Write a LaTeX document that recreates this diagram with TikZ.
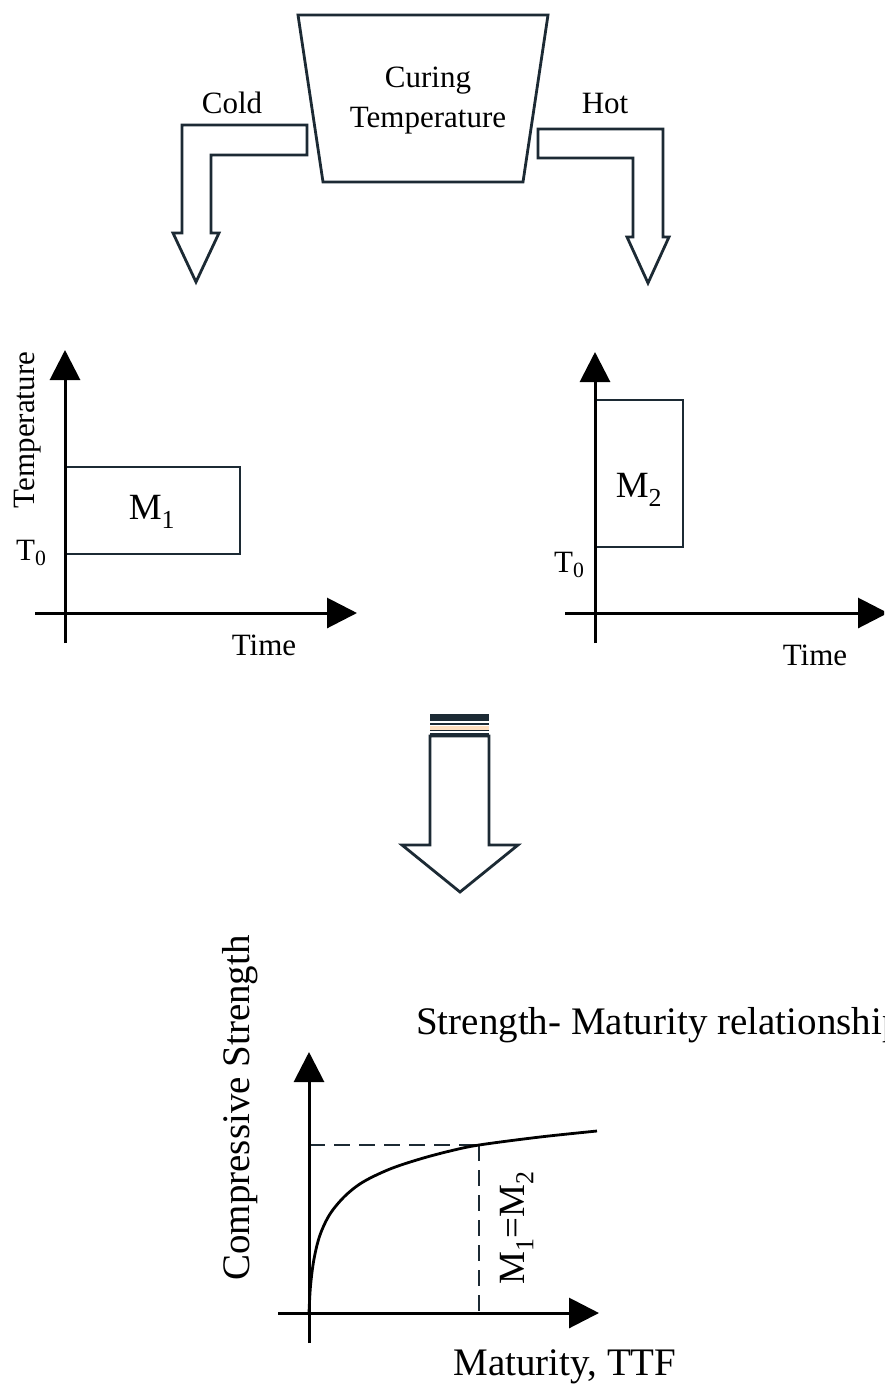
\documentclass[tikz,border=0pt]{standalone}
\usepackage{fontspec}
\setmainfont{Liberation Serif}
\usetikzlibrary{arrows.meta}
\definecolor{ink}{RGB}{28,42,52}
\begin{document}
\begin{tikzpicture}[x=1pt,y=-1pt,
  axis/.style={line width=3pt,-{Triangle[length=30pt,width=30pt]}},
  blockarrow/.style={draw=ink,line width=2.8pt,fill=white,line join=miter},
  tbox/.style={draw=ink,line width=2.6pt},
  lbl/.style={inner sep=0pt,font=\fontsize{31}{40}\selectfont},
  mlbl/.style={inner sep=0pt,font=\fontsize{37}{42}\selectfont},
  biglbl/.style={inner sep=0pt,font=\fontsize{39}{46}\selectfont},
  guide/.style={draw=ink,line width=2.4pt,dash pattern=on 16pt off 9pt}]
\clip (0,0) rectangle (884,1390);
\fill[white] (0,0) rectangle (884,1390);

% ---- top: curing temperature block
\draw[tbox,line width=2.8pt] (298,15) -- (548,15) -- (523,182) -- (323,182) -- cycle;
\node[lbl,align=center] (curing) at (428,101) {Curing\\Temperature};

% cold arrow
\draw[blockarrow] (307,125) -- (182,125) -- (182,233) -- (173,233) -- (196,282)
  -- (219,233) -- (211,233) -- (211,155) -- (307,155) -- cycle;
\node[lbl,anchor=base] (cold) at (232,113) {Cold};

% hot arrow
\draw[blockarrow] (538,129) -- (663,129) -- (663,237) -- (669,237) -- (648,283)
  -- (627,237) -- (633,237) -- (633,158) -- (538,158) -- cycle;
\node[lbl,anchor=base] (hot) at (605,113) {Hot};

% ---- left chart
\coordinate (lyb) at (65,643);  \coordinate (lyt) at (65,350);
\coordinate (lxl) at (35,613);  \coordinate (lxr) at (357,613);
\draw[tbox] (65,467) rectangle (240,554);
\draw[axis] (lyb) -- (lyt);
\draw[axis] (lxl) -- (lxr);
\node[mlbl] (m1) at (152,512) {M\textsubscript{1}};
\node[lbl,anchor=base west] (t0a) at (16,560) {T\textsubscript{0}};
\node[lbl,anchor=base] (timea) at (264,655) {Time};
\node[lbl,rotate=90] (temp) at (28,430) {Temperature};

% ---- right chart
\coordinate (ryb) at (595,643);  \coordinate (ryt) at (595,352);
\coordinate (rxl) at (565,613);  \coordinate (rxr) at (888,613);
\draw[tbox] (595,400) rectangle (683,547);
\draw[axis] (ryb) -- (ryt);
\draw[axis] (rxl) -- (rxr);
\node[mlbl] (m2) at (639,490) {M\textsubscript{2}};
\node[lbl,anchor=base west] (t0b) at (554,572) {T\textsubscript{0}};
\node[lbl,anchor=base] (timeb) at (815,665) {Time};

% ---- middle arrow
\draw[blockarrow] (430,736) -- (430,845) -- (402,845) -- (460,892) -- (518,845)
  -- (489,845) -- (489,736) -- cycle;
\fill[ink] (430,714) rectangle (489,721);
\draw[ink,line width=1.6pt] (430,724) -- (489,724);
\fill[orange!25] (430,725.5) rectangle (489,729.5);
\draw[ink,line width=1.6pt] (430,730.5) -- (489,730.5);
\draw[ink,line width=1.6pt] (430,734) -- (489,734);

% ---- bottom chart
\coordinate (byb) at (309,1343);  \coordinate (byt) at (309,1052);
\coordinate (bxl) at (278,1313);  \coordinate (bxr) at (599,1313);
\coordinate (meet) at (479,1145);
\draw[guide] (309,1145) -- (meet);
\draw[guide] (meet) -- (479,1313);
\draw[line width=2.8pt] plot[smooth,tension=0.55] coordinates {(309,1313) (310.5,1286) (314,1259) (320,1235) (330,1214) (345,1196) (363,1182) (390,1169) (420,1159) (450,1151) (479,1145) (540,1137) (597,1131)};
\draw[axis] (byb) -- (byt);
\draw[axis] (bxl) -- (bxr);
\node[biglbl,rotate=90] (cs) at (240,1108) {Compressive Strength};
\node[biglbl,anchor=base west] (smr) at (416,1034) {Strength- Maturity relationship};
\node[mlbl,rotate=90] (meq) at (517,1228) {M\textsubscript{1}=M\textsubscript{2}};
\node[biglbl,anchor=base] (mat) at (565,1375) {Maturity, TTF};
\end{tikzpicture}
\end{document}
